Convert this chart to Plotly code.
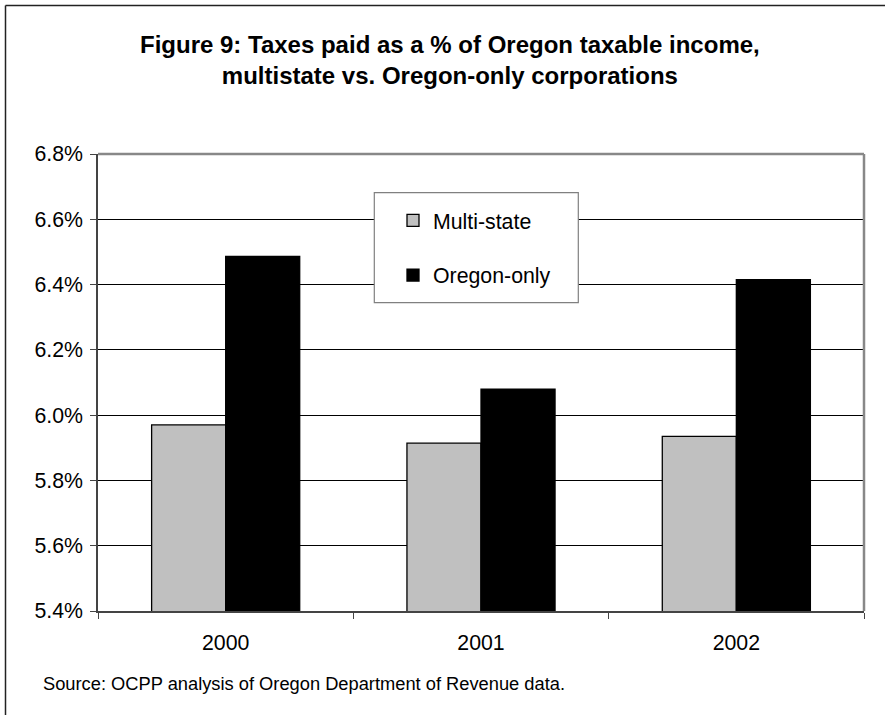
import plotly.graph_objects as go

years = ["2000", "2001", "2002"]
multi_state = [5.97, 5.914, 5.935]
oregon_only = [6.486, 6.08, 6.415]
y_ticks = [5.4, 5.6, 5.8, 6.0, 6.2, 6.4, 6.6, 6.8]
y_tick_labels = ["5.4%", "5.6%", "5.8%", "6.0%", "6.2%", "6.4%", "6.6%", "6.8%"]

W, H = 885, 715
L, R, T, B = 98, 864, 154, 611
pw, ph = R - L, B - T

def px_x(v):
    return (v - L) / pw

def px_y(v):
    return (B - v) / ph

FONT = "Liberation Sans, Arial, sans-serif"
FS = 21.3

fig = go.Figure()
fig.add_trace(go.Bar(
    x=years, y=multi_state, name="Multi-state", legendgroup="a",
    marker=dict(color="#C0C0C0", line=dict(color="black", width=1.3)),
))
fig.add_trace(go.Bar(
    x=years, y=oregon_only, name="Oregon-only", legendgroup="b",
    marker=dict(color="black", line=dict(color="black", width=1.3)),
))

fig.update_layout(
    width=W, height=H,
    margin=dict(l=L, r=W - R, t=T, b=H - B, pad=0),
    paper_bgcolor="white", plot_bgcolor="white",
    font=dict(family=FONT, size=FS, color="black"),
    barmode="group", bargap=0.42, bargroupgap=0,
    showlegend=True,
    legend=dict(
        x=px_x(393), y=px_y(200), xanchor="left", yanchor="top",
        bgcolor="rgba(0,0,0,0)", borderwidth=0,
        font=dict(family=FONT, size=FS, color="black"),
        traceorder="grouped", tracegroupgap=24,
    ),
    xaxis=dict(
        type="category", showgrid=False, showline=True, linecolor="#444444", linewidth=1.5,
        ticks="outside", ticklen=6, tickcolor="#444444", tickwidth=1.3, tickson="boundaries",
        ticklabelstandoff=12,
        tickfont=dict(family=FONT, size=FS, color="black"),
    ),
    yaxis=dict(
        range=[5.4, 6.8], tickvals=y_ticks, ticktext=y_tick_labels,
        showgrid=True, gridcolor="black", gridwidth=1,
        showline=True, linecolor="#444444", linewidth=1.5,
        ticks="outside", ticklen=6, tickcolor="#444444", tickwidth=1.3,
        ticklabelstandoff=3,
        tickfont=dict(family=FONT, size=FS, color="black"),
        zeroline=False,
    ),
    shapes=[
        dict(type="line", xref="paper", yref="paper", x0=0, x1=1, y0=1, y1=1,
             line=dict(color="#888888", width=2.5), layer="above"),
        dict(type="line", xref="paper", yref="paper", x0=1, x1=1, y0=0, y1=1,
             line=dict(color="#888888", width=2.5), layer="above"),
        dict(type="rect", xref="paper", yref="paper",
             x0=px_x(374.3), x1=px_x(578.3), y0=px_y(302.7), y1=px_y(192.7),
             fillcolor="white", line=dict(color="#808080", width=1.2), layer="above"),
        # outer chart border: left and top edges (right/bottom lie outside the picture)
        dict(type="line", xref="paper", yref="paper",
             x0=px_x(5.5), x1=px_x(5.5), y0=px_y(H + 5), y1=px_y(5.5),
             line=dict(color="#222222", width=1.5), layer="above"),
        dict(type="line", xref="paper", yref="paper",
             x0=px_x(5.5), x1=px_x(W + 5), y0=px_y(5.5), y1=px_y(5.5),
             line=dict(color="#222222", width=1.5), layer="above"),
    ],
    annotations=[
        dict(text="<b>Figure 9: Taxes paid as a % of Oregon taxable income,</b><br><b>multistate vs. Oregon-only corporations</b>",
             xref="paper", yref="paper", x=px_x(450), y=px_y(59.5),
             xanchor="center", yanchor="middle", align="center", showarrow=False,
             font=dict(family=FONT, size=24, color="black")),
        dict(text="Source: OCPP analysis of Oregon Department of Revenue data.",
             xref="paper", yref="paper", x=px_x(40.7), y=px_y(683),
             xanchor="left", yanchor="middle", showarrow=False,
             font=dict(family=FONT, size=18.3, color="black")),
    ],
)

fig.write_html("out.html", config={"displayModeBar": False},
               post_script="document.body.style.margin='0';document.body.style.overflow='hidden';")
